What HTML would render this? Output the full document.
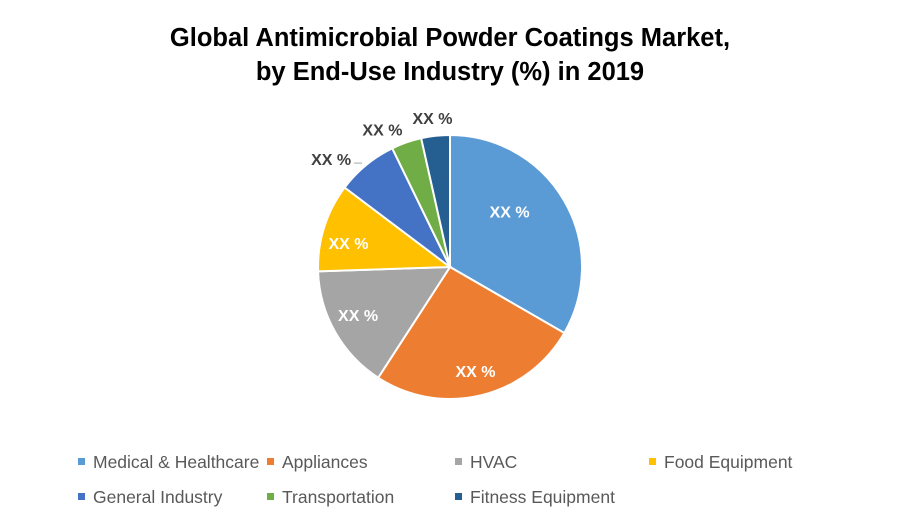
<!DOCTYPE html>
<html><head><meta charset="utf-8"><style>
body{margin:0;background:#fff;}
svg{display:block;font-family:"Liberation Sans",Arial,sans-serif;}
</style></head><body>
<svg width="900" height="525">
<text x="450" y="46" text-anchor="middle" font-size="25.5" font-weight="bold" fill="#000">Global Antimicrobial Powder Coatings Market,</text>
<text x="450" y="80" text-anchor="middle" font-size="25.5" font-weight="bold" fill="#000">by End-Use Industry (%) in 2019</text>
<g id="pie"></g>
<g id="legend"></g>
</svg>
<script>
const categories=["Medical & Healthcare","Appliances","HVAC","Food Equipment","General Industry","Transportation","Fitness Equipment"];
const values=[33.3,25.8,15.3,10.8,7.5,3.7,3.5];
const labels=["XX %","XX %","XX %","XX %","XX %","XX %","XX %"];
const colors=["#5B9BD5","#ED7D31","#A5A5A5","#FFC000","#4472C4","#70AD47","#255E91"];
const labelOffX=[-9,7,-23,-26,-35,-24,-3];
const labelOffY=[-16,27,9,0,-6,-13,-18];
const ns="http://www.w3.org/2000/svg";
const cx=450,cy=267,r=132;
const total=values.reduce((a,b)=>a+b,0);
const pie=document.getElementById('pie');
function pt(a,rr){return [cx+rr*Math.sin(a),cy-rr*Math.cos(a)];}
let a0=0;
values.forEach((v,i)=>{
  const a1=a0+v/total*2*Math.PI;
  const p0=pt(a0,r),p1=pt(a1,r);
  const large=(a1-a0)>Math.PI?1:0;
  const path=document.createElementNS(ns,'path');
  path.setAttribute('d',`M${cx},${cy}L${p0[0]},${p0[1]}A${r},${r} 0 ${large} 1 ${p1[0]},${p1[1]}Z`);
  path.setAttribute('fill',colors[i]);
  path.setAttribute('stroke','#fff');
  path.setAttribute('stroke-width','2');
  
  
  pie.appendChild(path);
  const mid=(a0+a1)/2;
  const inside=v>=10;
  const e=pt(mid,inside?r*0.6:r);
  const lp=[e[0]+labelOffX[i],e[1]+labelOffY[i]];
  const t=document.createElementNS(ns,'text');
  t.setAttribute('x',lp[0]);t.setAttribute('y',lp[1]+6);
  t.setAttribute('text-anchor','middle');
  t.setAttribute('font-size','16');t.setAttribute('font-weight','bold');
  t.setAttribute('fill',inside?'#fff':'#404040');
  t.textContent=labels[i];
  
  
  pie.appendChild(t);
  if(i===4){
    const l=document.createElementNS(ns,'line');
    l.setAttribute('x1',lp[0]+23);l.setAttribute('y1',lp[1]+4);
    l.setAttribute('x2',lp[0]+31);l.setAttribute('y2',lp[1]+4);
    l.setAttribute('stroke','#a6a6a6');l.setAttribute('stroke-width','1');
    
    
    pie.appendChild(l);
  }
  a0=a1;
});
const lg=document.getElementById('legend');
const lx=[82,271,459,653],ly=[462,497];
categories.forEach((c,i)=>{
  const x=lx[i%4],y=ly[Math.floor(i/4)];
  const g=document.createElementNS(ns,'g');
  
  
  const s=document.createElementNS(ns,'rect');
  s.setAttribute('x',x-4);s.setAttribute('y',y-4);s.setAttribute('width',7);s.setAttribute('height',7);
  s.setAttribute('fill',colors[i]);
  g.appendChild(s);
  const t=document.createElementNS(ns,'text');
  t.setAttribute('x',x+11);t.setAttribute('y',y+6);
  t.setAttribute('font-size','17.5');t.setAttribute('fill','#595959');
  t.textContent=c;
  g.appendChild(t);
  lg.appendChild(g);
});
</script>
</body></html>
